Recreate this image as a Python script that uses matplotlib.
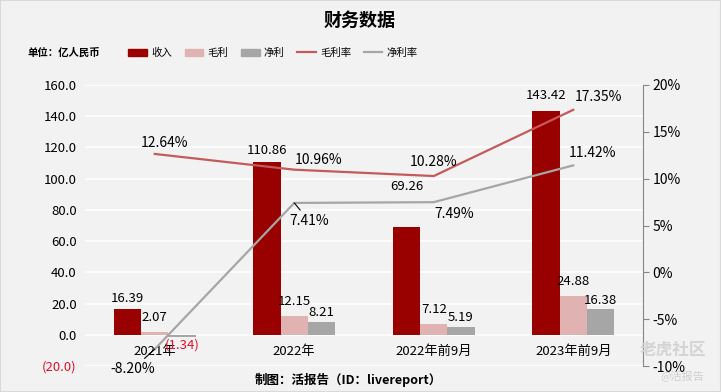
import matplotlib.pyplot as plt
import matplotlib.patches as mpatches
from matplotlib.lines import Line2D
import numpy as np

plt.rcParams['font.family'] = ['Noto Sans CJK SC', 'DejaVu Sans']

categories = ['2021年', '2022年', '2022年前9月', '2023年前9月']
revenue = [16.39, 110.86, 69.26, 143.42]
gross_profit = [2.07, 12.15, 7.12, 24.88]
net_profit = [-1.34, 8.21, 5.19, 16.38]
gross_margin = [12.64, 10.96, 10.28, 17.35]
net_margin = [-8.20, 7.41, 7.49, 11.42]

BG = '#f2f2f2'
C_REV = '#990000'
C_GROSS = '#e0b2b2'
C_NET = '#a6a6a6'
C_GM = '#c55a5a'
C_NM = '#a6a6a6'
RED = '#e5102a'


def fmt_num(v):
    return f'({abs(v):.2f})' if v < 0 else f'{v:.2f}'


fig = plt.figure(figsize=(7.21, 3.92), dpi=100, facecolor=BG)
ax = fig.add_axes([85 / 721, 1 - 366 / 392, (643 - 85) / 721, (366 - 85) / 392])
ax.set_facecolor(BG)
ax2 = ax.twinx()

x = np.arange(len(categories))
w = 0.195
ax.bar(x - w, revenue, w, color=C_REV, zorder=2)
ax.bar(x, gross_profit, w, color=C_GROSS, zorder=2)
ax.bar(x + w, net_profit, w, color=C_NET, zorder=2)

ax.set_xlim(-0.5, len(categories) - 0.5)
ax.set_ylim(-20, 160)
ax.set_yticks(np.arange(-20, 161, 20))
ax.set_yticklabels([f'({abs(v):.1f})' if v < 0 else f'{v:.1f}' for v in np.arange(-20, 161, 20)])
for lab, v in zip(ax.get_yticklabels(), np.arange(-20, 161, 20)):
    if v < 0:
        lab.set_color(RED)
ax.tick_params(axis='y', length=0, pad=6, labelsize=9.5)
ax.grid(axis='y', color='white', lw=1.2, zorder=0)
ax.set_axisbelow(True)

ax.set_xticks(x)
ax.set_xticklabels(categories)
ax.spines['bottom'].set_position(('data', 0))
ax.tick_params(axis='x', length=0, pad=7, labelsize=9.5)
for s in ax.spines.values():
    s.set_visible(False)

# bar labels
rev_off = [11, 11, 40, 15]
for i, v in enumerate(revenue):
    ax.annotate(fmt_num(v), (x[i] - w, v), xytext=(0, rev_off[i]), textcoords='offset pixels',
                ha='center', va='center', fontsize=9.5)
for i, v in enumerate(gross_profit):
    ax.annotate(fmt_num(v), (x[i], v), xytext=(0, 14), textcoords='offset pixels',
                ha='center', va='center', fontsize=9.5)
for i, v in enumerate(net_profit):
    off = -8 if v < 0 else 9
    ax.annotate(fmt_num(v), (x[i] + w, v), xytext=(0, off), textcoords='offset pixels',
                ha='center', va='center', fontsize=9.5, color=RED if v < 0 else 'black')

# lines on right axis
ax2.plot(x, gross_margin, color=C_GM, lw=1.6, zorder=3)
ax2.plot(x, net_margin, color=C_NM, lw=1.6, zorder=3)
ax2.set_ylim(-10, 20)
ax2.set_yticks(np.arange(-10, 21, 5))
ax2.set_yticklabels([f'{v:.0f}%' for v in np.arange(-10, 21, 5)])
ax2.tick_params(axis='y', length=4, color='#868686', pad=3, labelsize=10)
for k, s in ax2.spines.items():
    s.set_visible(k == 'right')
ax2.spines['right'].set_color('#868686')

gm_off = [(10, 11, 'center'), (1, 10, 'left'), (0, 14, 'center'), (2, 13, 'left')]
for i, v in enumerate(gross_margin):
    dx, dy, ha = gm_off[i]
    ax2.annotate(f'{v:.2f}%', (x[i], v), xytext=(dx, dy), textcoords='offset pixels',
                 ha=ha, va='center', fontsize=10)
nm_off = [(-22, -20, 'center', True), (15, -18, 'center', True),
          (1, -12, 'left', False), (-5, 12, 'left', False)]
for i, v in enumerate(net_margin):
    dx, dy, ha, leader = nm_off[i]
    props = dict(arrowstyle='-', color='black', lw=0.8, shrinkA=1, shrinkB=0) if leader else None
    ax2.annotate(f'{v:.2f}%', (x[i], v), xytext=(dx, dy), textcoords='offset pixels',
                 ha=ha, va='center', fontsize=10, arrowprops=props)

# title, unit, legend, footer
fig.text(360 / 721, 1 - 20 / 392, '财务数据', ha='center', va='center', fontsize=13, fontweight='bold')
fig.text(28 / 721, 1 - 53 / 392, '单位：亿人民币', ha='left', va='center', fontsize=7.5, fontweight='bold')
handles = [mpatches.Patch(color=C_REV), mpatches.Patch(color=C_GROSS), mpatches.Patch(color=C_NET),
           Line2D([], [], color=C_GM, lw=1.6), Line2D([], [], color=C_NM, lw=1.6)]
fig.legend(handles, ['收入', '毛利', '净利', '毛利率', '净利率'], ncol=5, loc='center',
           bbox_to_anchor=(273 / 721, 1 - 53 / 392), frameon=False, fontsize=7.5,
           handlelength=1.8, handletextpad=0.4, columnspacing=1.2)
fig.text(348 / 721, 1 - 380 / 392, '制图：活报告（ID：livereport）', ha='center', va='center',
         fontsize=9, fontweight='bold')

# watermark
fig.text(673 / 721, 1 - 350 / 392, '老虎社区', ha='center', va='center', fontsize=12,
         color='#d4d4d4', fontweight='bold')
fig.text(682 / 721, 1 - 377 / 392, '@活报告', ha='center', va='center', fontsize=8, color='#d0d0d0')

fig.patches.append(mpatches.Rectangle((0, 0), 1, 1, transform=fig.transFigure, fill=False,
                                      edgecolor='#d9d9d9', lw=1.5))

fig.savefig('out.png', dpi=100, facecolor=BG)
